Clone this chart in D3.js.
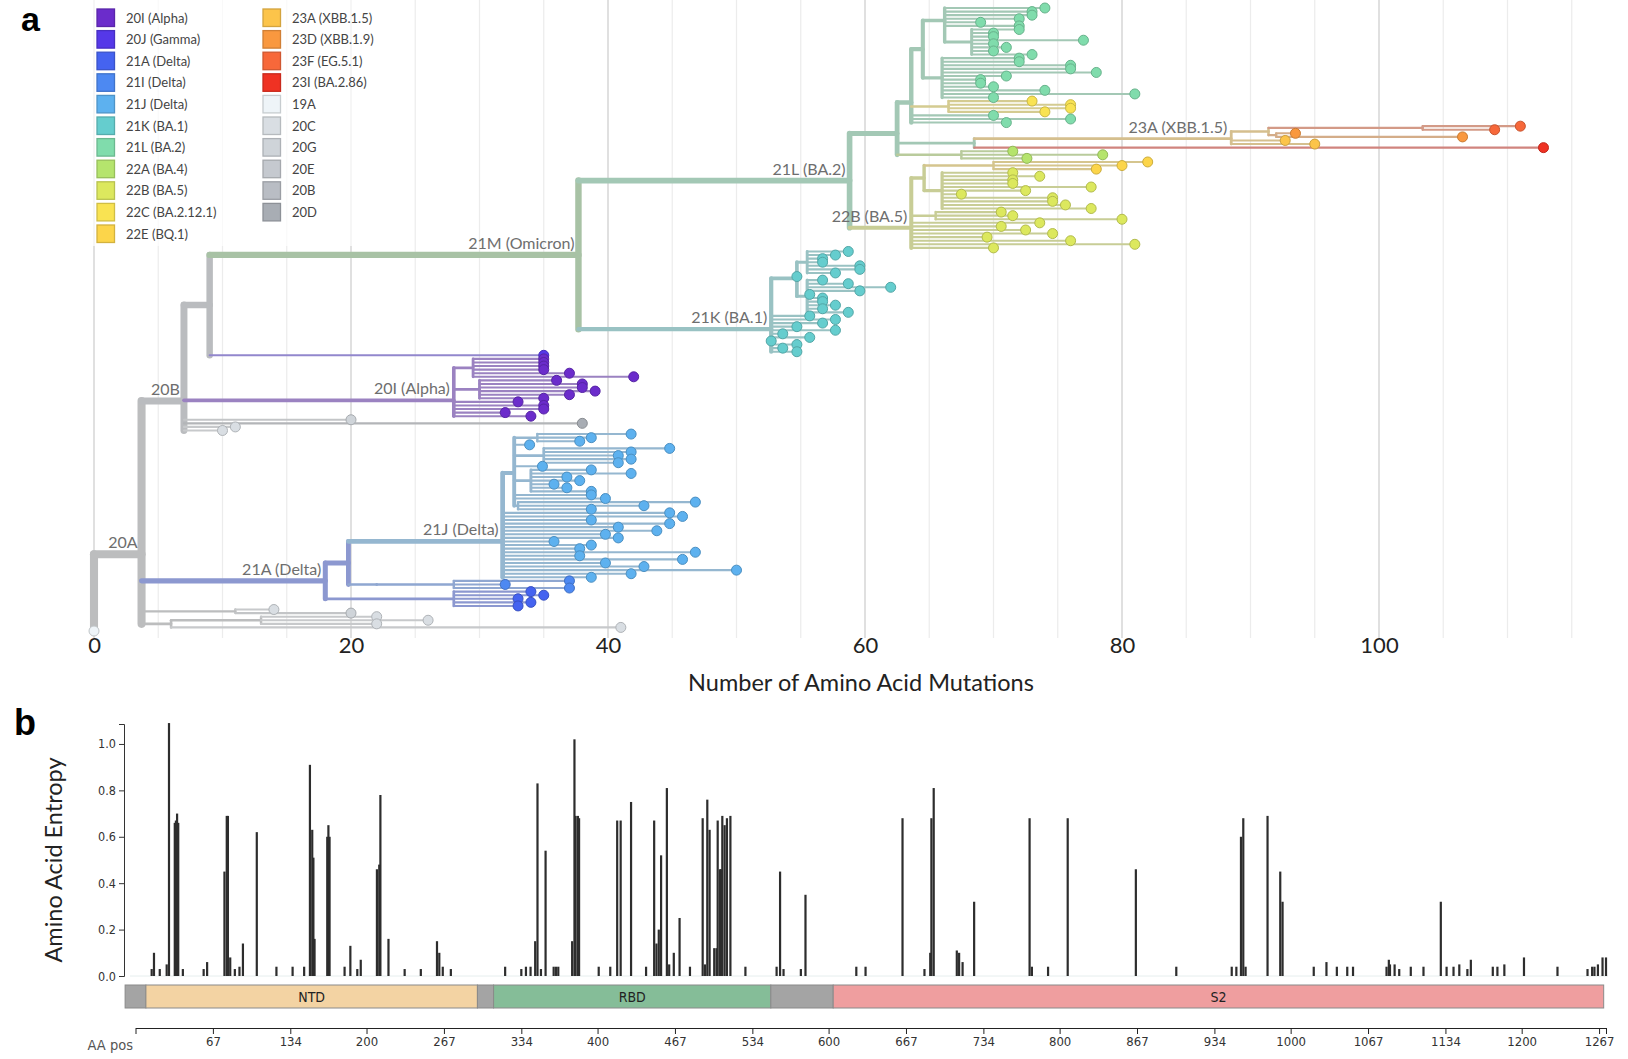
<!DOCTYPE html>
<html>
<head>
<meta charset="utf-8">
<script src="https://cdn.jsdelivr.net/npm/d3@7"></script>
<style>
  body { margin: 0; background: #fff; }
  svg { display: block; font-family: Lato, "Open Sans", sans-serif; }
  .cond { font-family: "DejaVu Sans Condensed", "Liberation Sans Narrow", sans-serif; font-stretch: condensed; }
</style>
</head>
<body>
<svg id="chart" width="1628" height="1059"></svg>
<script>
// ---------- data ----------
const legendClades = ["20I (Alpha)", "20J (Gamma)", "21A (Delta)", "21I (Delta)", "21J (Delta)", "21K (BA.1)",
  "21L (BA.2)", "22A (BA.4)", "22B (BA.5)", "22C (BA.2.12.1)", "22E (BQ.1)",
  "23A (XBB.1.5)", "23D (XBB.1.9)", "23F (EG.5.1)", "23I (BA.2.86)", "19A", "20C", "20G", "20E", "20B", "20D"];
const legendColors = ["#6b2ccb", "#5538e8", "#4563f0", "#4d89f2", "#5db1ef", "#65cdce",
  "#80dcac", "#b5e46d", "#dce85e", "#f9e352", "#fcd54a",
  "#fcc44a", "#f9983f", "#f7683a", "#ef3223", "#eef4f8", "#d9dee3", "#cfd4d9", "#c5c9cf", "#b9bdc4", "#a8adb4"];
// clades only used by internal branches
const branchOnlyClades = ["20A", "21M"];
const branchOnlyColors = ["#bdbfc2", "#8ccc84"];

const mutationTicks = [0, 20, 40, 60, 80, 100];

// tree rows: [id, parent, amino acid mutations, clade]; id "*" = a group of tips (mutations as list)
const treeStem = [
  ["root", "", 0, "20A"],
  ["n20A", "root", 3.7, "20A"],
  ["n20B", "n20A", 7, "20B"],
  ["n9", "n20B", 9, "20B"]
];
const treeOmicron = [
  ["n21M", "n9", 37.7, "21M"],
  ["n21L", "n21M", 58.8, "21L"],
  ["A1", "n21L", 62.5, "21L"],
  ["A2", "A1", 63.6, "21L"],
  ["A3", "A2", 64.5, "21L"],
  ["A5", "A3", 66.2, "21L"],
  ["*", "A5", [74, 73, 73, 72, 69, 72], "21L"],
  ["A5b", "A5", 68.3, "21L"],
  ["*", "A5b", [72, 70, 70, 77, 70, 71, 70, 73], "21L"],
  ["A6", "A3", 66, "21L"],
  ["*", "A6", [72, 72, 76, 76, 78, 71, 69, 69, 70, 74, 81, 70], "21L"],
  ["C22", "A2", 66.5, "22C"],
  ["*", "C22", [73, 76, 76, 74], "22C"],
  ["*", "A2", [70, 76, 71], "21L"],
  ["X1", "A1", 68.5, "21L"],
  ["X23A", "X1", 88.5, "23A"],
  ["X2", "X23A", 91.4, "23A"],
  ["X3", "X2", 103.4, "23F"],
  ["*", "X3", [111, 109], "23F"],
  ["X4", "X2", 92, "23D"],
  ["*", "X4", [93.5, 106.5], "23D"],
  ["*", "X23A", [92.7, 95], "23A"],
  ["*", "X1", [112.8], "23I"],
  ["B4", "A1", 67.5, "22A"],
  ["*", "B4", [71.5, 78.5, 72.6], "22A"],
  ["n22B", "n21L", 63.6, "22B"],
  ["B1", "n22B", 64.6, "22B"],
  ["B22E", "B1", 70, "22E"],
  ["*", "B22E", [82, 80, 78], "22E"],
  ["B1a", "B1", 66, "22B"],
  ["*", "B1a", [71.5, 73.6, 71.5, 71.5, 77.6, 72.5, 67.5, 74.6, 74.6, 75.6, 77.6], "22B"],
  ["B2", "n22B", 65.5, "22B"],
  ["*", "B2", [70.6, 71.5, 80], "22B"],
  ["*", "n22B", [73.6, 70.6, 72.5, 74.6, 69.5, 76, 81, 70], "22B"],
  ["n21K", "n21M", 52.7, "21K"],
  ["K1", "n21K", 54.7, "21K"],
  ["K1a", "K1", 55.5, "21K"],
  ["*", "K1a", [58.7, 57.7, 56.7, 56.7, 59.6, 59.6, 57.7], "21K"],
  ["*", "K1", [54.7], "21K"],
  ["K1b", "K1", 55.5, "21K"],
  ["*", "K1b", [56.7, 58.7, 62, 59.6, 55.7, 56.7, 56.7, 57.7, 56.7, 58.7], "21K"],
  ["*", "n21K", [55.7, 57.7, 56.7, 54.7, 57.7, 53.6, 55.7, 52.7, 54.7, 53.6, 54.7], "21K"]
];
const treeAlpha = [
  ["*", "n9", [35], "20J"],
  ["n20I", "n20B", 28, "20I"],
  ["I1", "n20I", 29.5, "20I"],
  ["*", "I1", [35, 35, 35, 35, 37, 42], "20I"],
  ["I2", "n20I", 30, "20I"],
  ["*", "I2", [36, 38, 38, 39, 37, 35], "20I"],
  ["*", "n20I", [33, 35, 35, 32, 34], "20I"],
  ["*", "n20B", [20], "20G"],
  ["*", "n20B", [38], "20D"],
  ["*", "n20B", [11, 10], "20C"]
];
const treeDelta = [
  ["n21A", "n20A", 18, "21A"],
  ["D1", "n21A", 19.8, "21A"],
  ["n21J", "D1", 31.8, "21J"],
  ["J1", "n21J", 32.7, "21J"],
  ["J1a", "J1", 34.5, "21J"],
  ["*", "J1a", [41.8, 38.7, 37.8], "21J"],
  ["*", "J1", [33.9], "21J"],
  ["J1b", "J1", 35, "21J"],
  ["*", "J1b", [44.8, 41.8, 40.8, 41.8, 40.8], "21J"],
  ["*", "J1", [34.9], "21J"],
  ["J1c", "J1", 34, "21J"],
  ["*", "J1c", [38.7, 41.8, 36.8, 37.8, 35.8, 36.8, 38.7], "21J"],
  ["*", "J1", [38.7, 39.8], "21J"],
  ["J2", "J1", 33, "21J"],
  ["*", "J2", [46.8, 42.8, 38.7], "21J"],
  ["*", "n21J", [44.8, 45.8, 38.7, 44.8, 40.8, 43.8, 39.8, 40.8, 35.8], "21J"],
  ["*", "n21J", [38.7, 37.8, 46.8, 37.8, 45.8, 39.8, 42.8, 50, 41.8, 38.7], "21J"],
  ["D3", "D1", 22, "21I"],
  ["D3a", "D3", 28, "21I"],
  ["*", "D3a", [37, 32, 37], "21I"],
  ["D2", "n21A", 28, "21A"],
  ["*", "D2", [34, 35, 33, 34, 33], "21A"]
];
const treeBasal = [
  ["g1", "n20A", 11, "20A"],
  ["*", "g1", [14], "20C"],
  ["*", "g1", [20], "20G"],
  ["g2", "n20A", 6, "20A"],
  ["g3", "g2", 13, "20A"],
  ["*", "g3", [22, 26, 22], "20C"],
  ["*", "g2", [41], "20C"],
  ["*", "root", [0], "19A"]
];
const branchLabels = [["n20A", "20A"], ["n20B", "20B"], ["n21A", "21A (Delta)"], ["n21J", "21J (Delta)"],
  ["n20I", "20I (Alpha)"], ["n21M", "21M (Omicron)"], ["n21K", "21K (BA.1)"], ["n21L", "21L (BA.2)"],
  ["n22B", "22B (BA.5)"], ["X23A", "23A (XBB.1.5)"]];

// entropy panel: [amino acid position, entropy]
const entropySites = [[14,.03],[16,.10],[21,.03],[27,.05],[29,1.09],[34,.66],[35,.67],[36,.70],[37,.66],[41,.03],
  [59,.03],[62,.06],[77,.45],[79,.69],[80,.69],[82,.08],[86,.03],[90,.04],[93,.14],[105,.62],[122,.04],[136,.04],
  [146,.04],[151,.91],[153,.63],[154,.51],[155,.16],[166,.60],[167,.65],[168,.60],[181,.04],[186,.13],[192,.03],
  [195,.07],[209,.46],[211,.48],[212,.78],[219,.16],[233,.03],[247,.03],[261,.15],[263,.10],[266,.04],[273,.03],
  [320,.04],[334,.03],[338,.04],[342,.04],[346,.15],[348,.83],[351,.03],[355,.54],[362,.04],[364,.04],[366,.04],
  [378,.15],[380,1.02],[381,.69],[383,.69],[384,.68],[401,.04],[411,.04],[417,.67],[420,.67],[429,.75],[442,.04],
  [449,.67],[451,.14],[453,.20],[455,.52],[460,.81],[462,.05],[466,.10],[471,.25],[480,.04],[491,.68],[493,.05],
  [495,.76],[497,.63],[501,.12],[503,.12],[504,.67],[506,.46],[507,.46],[508,.69],[510,.65],[512,.68],[515,.69],
  [528,.04],[555,.04],[558,.45],[561,.03],[576,.03],[580,.35],[624,.04],[632,.04],[664,.68],[683,.03],[688,.10],
  [689,.68],[691,.81],[711,.11],[713,.10],[716,.06],[726,.32],[774,.68],[776,.04],[790,.04],[807,.68],[866,.46],
  [901,.04],[949,.04],[953,.04],[957,.60],[959,.68],[961,.04],[980,.69],[991,.45],[993,.32],[1020,.04],[1031,.06],
  [1040,.04],[1049,.04],[1054,.04],[1083,.04],[1085,.07],[1086,.05],[1090,.05],[1094,.03],[1104,.04],[1115,.04],
  [1130,.32],[1135,.04],[1141,.04],[1146,.05],[1153,.03],[1156,.07],[1175,.04],[1179,.04],[1185,.05],[1202,.08],
  [1231,.04],[1257,.03],[1261,.04],[1263,.04],[1266,.05],[1270,.08],[1273,.08]];
const entropyTicks = [0, 0.2, 0.4, 0.6, 0.8, 1.0];
const proteinDomains = [["", -9, 9], ["NTD", 9, 296], ["", 296, 310], ["RBD", 310, 550], ["", 550, 604], ["S2", 604, 1271]];
const domainColors = ["#a4a4a4", "#f3d3a3", "#a4a4a4", "#85bd98", "#a4a4a4", "#ef9e9f"];
const aaTicks = [67, 134, 200, 267, 334, 400, 467, 534, 600, 667, 734, 800, 867, 934, 1000, 1067, 1134, 1200, 1267];

// ---------- helpers ----------
const svg = d3.select("#chart");
const cladeKeys = legendClades.map(d => d.split(" ")[0]).concat(branchOnlyClades);
const cladeCols = legendColors.concat(branchOnlyColors);
const colorOf = c => cladeCols[cladeKeys.indexOf(c)] || "#bbb";
const branchColor = c => d3.interpolateRgb(colorOf(c), "#BBBBBB")(0.6);

// ---------- panel a: tree ----------
const x = d3.scaleLinear().domain([0, 100]).range([94, 1379]);

// grid
const grid = d3.range(0, 120, 5);
svg.append("g").selectAll("line").data(grid).enter().append("line")
  .attr("x1", d => x(d)).attr("x2", d => x(d))
  .attr("y1", 0).attr("y2", 638)
  .attr("stroke", d => d % 20 === 0 ? "#d9d9d9" : "#ececec")
  .attr("stroke-width", d => d % 20 === 0 ? 1.6 : 1.2);

// build hierarchy
let nodes = [];
let tipNo = 0;
for (const [id, parent, div, clade] of treeStem.concat(treeOmicron, treeAlpha, treeDelta, treeBasal)) {
  if (Array.isArray(div)) {
    div.forEach(v => nodes.push({ id: "tip" + (tipNo++), parent: parent, div: v, clade: clade, tip: true }));
  } else {
    nodes.push({ id: id, parent: parent, div: div, clade: clade, tip: false });
  }
}
const root = d3.stratify().id(d => d.id).parentId(d => d.parent || null)(nodes);
root.count();
const leaves = root.leaves();
const yTree = d3.scaleLinear().domain([0, leaves.length - 1]).range([8, 631]);
leaves.forEach((l, i) => { l.ty = yTree(i); });
root.eachAfter(n => { if (n.children) n.ty = d3.mean(n.children, c => c.ty); });
const total = root.value;
const widthOf = n => 1.6 + 6.5 * Math.sqrt(n.value / total);

const gTree = svg.append("g");
root.descendants().forEach(n => {
  const col = branchColor(n.data.clade);
  if (n.parent) {
    gTree.append("path")
      .attr("d", `M${x(n.parent.data.div)},${n.ty}H${x(n.data.div)}`)
      .attr("stroke", col).attr("stroke-width", widthOf(n))
      .attr("stroke-linecap", "round").attr("fill", "none");
  }
  if (n.children) {
    const ys = n.children.map(c => c.ty);
    gTree.append("path")
      .attr("d", `M${x(n.data.div)},${d3.min(ys)}V${d3.max(ys)}`)
      .attr("stroke", col).attr("stroke-width", widthOf(n))
      .attr("stroke-linecap", "round").attr("fill", "none");
  }
});

gTree.selectAll("circle").data(leaves).enter().append("circle")
  .attr("cx", d => x(d.data.div))
  .attr("cy", d => d.ty)
  .attr("r", 5)
  .attr("fill", d => colorOf(d.data.clade))
  .attr("stroke", d => d3.rgb(colorOf(d.data.clade)).darker(0.6))
  .attr("stroke-width", 1);

// branch labels
const byId = new Map(root.descendants().map(n => [n.id, n]));
svg.append("g").selectAll("text").data(branchLabels).enter().append("text")
  .attr("x", d => x(byId.get(d[0]).data.div) - 4)
  .attr("y", d => byId.get(d[0]).ty - 6)
  .attr("text-anchor", "end")
  .attr("font-size", 16)
  .attr("fill", "#6e6e6e")
  .text(d => d[1]);

// x axis
const axA = svg.append("g").attr("transform", "translate(0,634)")
  .call(d3.axisBottom(x).tickValues(mutationTicks).tickSize(0).tickPadding(3));
axA.select(".domain").remove();
axA.selectAll("text").attr("font-size", 22).attr("font-family", "Lato").attr("fill", "#222");
svg.append("text").attr("x", 861).attr("y", 691).attr("text-anchor", "middle")
  .attr("font-size", 23.5).attr("fill", "#222").text("Number of Amino Acid Mutations");

// legend
svg.append("rect").attr("x", 88).attr("y", 0).attr("width", 300).attr("height", 246)
  .attr("fill", "#fff").attr("opacity", 0.7);
const leg = svg.append("g").selectAll("g").data(legendClades).enter().append("g")
  .attr("transform", (d, i) => `translate(${i < 11 ? 97 : 263},${9 + (i % 11) * 21.6})`);
leg.append("rect").attr("width", 17.5).attr("height", 17.5)
  .attr("fill", (d, i) => legendColors[i])
  .attr("stroke", (d, i) => d3.rgb(legendColors[i]).darker(0.5)).attr("stroke-width", 1.3);
leg.append("text").attr("x", 29).attr("y", 13.5).attr("font-size", 13).attr("fill", "#444").text(d => d);

svg.append("text").attr("x", 21).attr("y", 31).attr("font-size", 34).attr("font-weight", "bold")
  .attr("font-family", "Liberation Sans, Arial, sans-serif").text("a");

// ---------- panel b: entropy ----------
const xE = d3.scaleLinear().domain([0, 1273]).range([135.5, 1606]);
const yE = d3.scaleLinear().domain([0, 1.086]).range([976, 724]);

svg.append("line").attr("x1", 130).attr("x2", 1608).attr("y1", yE(0)).attr("y2", yE(0))
  .attr("stroke", "#e6eeee").attr("stroke-width", 1);

svg.append("g").selectAll("rect").data(entropySites).enter().append("rect")
  .attr("x", d => xE(d[0]) - 1.1)
  .attr("width", 2.2)
  .attr("y", d => yE(d[1]))
  .attr("height", d => yE(0) - yE(d[1]))
  .attr("fill", "#2d2d2d");

const axY = svg.append("g").attr("transform", "translate(124,0)")
  .call(d3.axisLeft(yE).tickValues(entropyTicks).tickFormat(d3.format(".1f")).tickSize(5));
axY.selectAll("text").attr("class", "cond").attr("font-size", 12.5).attr("fill", "#333");
axY.selectAll("path,line").attr("stroke", "#333");

svg.append("text").attr("transform", "translate(54,860) rotate(-90)").attr("text-anchor", "middle")
  .attr("dy", "0.35em").attr("font-size", 23.5).attr("fill", "#222").text("Amino Acid Entropy");

const dom = svg.append("g");
dom.selectAll("rect").data(proteinDomains).enter().append("rect")
  .attr("x", d => xE(d[1])).attr("width", d => xE(d[2]) - xE(d[1]))
  .attr("y", 985).attr("height", 23)
  .attr("fill", (d, i) => domainColors[i]).attr("stroke", "#8a8a8a").attr("stroke-width", 1);
dom.selectAll("text").data(proteinDomains.filter(d => d[0])).enter().append("text")
  .attr("class", "cond")
  .attr("x", d => (xE(d[1]) + xE(d[2])) / 2).attr("y", 1001.5)
  .attr("text-anchor", "middle").attr("font-size", 14).attr("fill", "#222").text(d => d[0]);

const axB = svg.append("g").attr("transform", "translate(0,1028)")
  .call(d3.axisBottom(xE).tickValues([0].concat(aaTicks, [1273]))
    .tickFormat(d => aaTicks.includes(d) ? d : "").tickSize(6).tickSizeOuter(0));
axB.selectAll("text").attr("class", "cond").attr("font-size", 13).attr("fill", "#333");
axB.selectAll("path,line").attr("stroke", "#222");
svg.append("text").attr("class", "cond").attr("x", 133).attr("y", 1050).attr("text-anchor", "end")
  .attr("font-size", 14.5).attr("fill", "#555").text("AA pos");

svg.append("text").attr("x", 14).attr("y", 735).attr("font-size", 36).attr("font-weight", "bold")
  .attr("font-family", "Liberation Sans, Arial, sans-serif").text("b");
</script>
</body>
</html>
